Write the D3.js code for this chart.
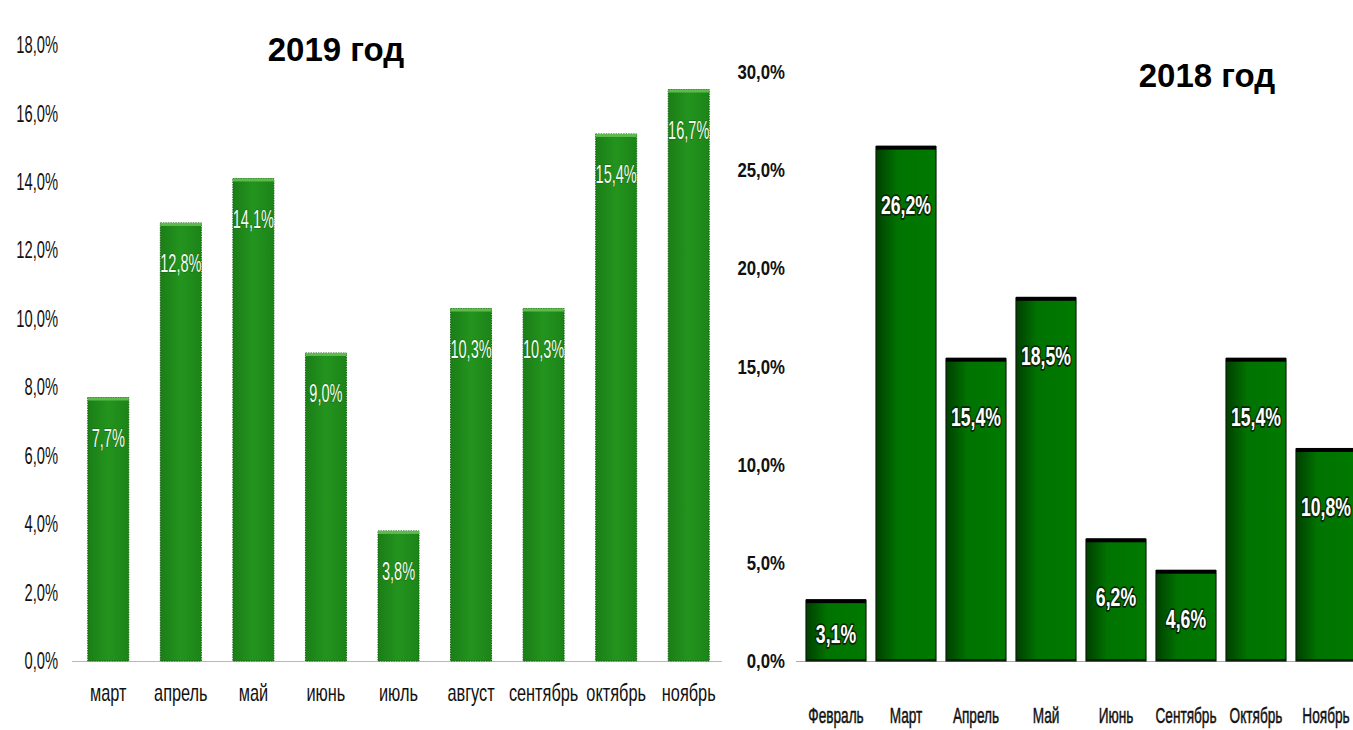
<!DOCTYPE html>
<html><head><meta charset="utf-8">
<script src="https://cdn.jsdelivr.net/npm/d3@7"></script>
<style>
body{margin:0;background:#fff;}
svg{display:block;}
text{font-family:"Liberation Sans",Arial,sans-serif;}
</style></head>
<body>
<svg id="c" width="1353" height="730"></svg>
<script>
// ---- data ----
const months2019 = ["март","апрель","май","июнь","июль","август","сентябрь","октябрь","ноябрь"];
const values2019 = [7.7, 12.8, 14.1, 9.0, 3.8, 10.3, 10.3, 15.4, 16.7];
const ticks2019 = [0,2,4,6,8,10,12,14,16,18];

const months2018 = ["Февраль","Март","Апрель","Май","Июнь","Сентябрь","Октябрь","Ноябрь"];
const values2018 = [3.1, 26.2, 15.4, 18.5, 6.2, 4.6, 15.4, 10.8];
const ticks2018 = [0,5,10,15,20,25,30];

const fmt = v => d3.format(".1f")(v).replace(".", ",") + "%";

const svg = d3.select("#c");
const defs = svg.append("defs");

const g1 = defs.append("linearGradient").attr("id","gL").attr("x1","0").attr("x2","1").attr("y1","0").attr("y2","0");
g1.append("stop").attr("offset","0%").attr("stop-color","#1b7e17");
g1.append("stop").attr("offset","50%").attr("stop-color","#23941e");
g1.append("stop").attr("offset","100%").attr("stop-color","#1c8418");

const g2 = defs.append("linearGradient").attr("id","gR").attr("x1","0").attr("x2","1").attr("y1","0").attr("y2","0");
g2.append("stop").attr("offset","0%").attr("stop-color","#003f00");
g2.append("stop").attr("offset","35%").attr("stop-color","#007300");
g2.append("stop").attr("offset","100%").attr("stop-color","#007a00");

// condensed text helper
function squeezed(parent, data, xf, yf, tf, o) {
  return parent.append("g").selectAll("text").data(data).join("text")
    .attr("transform",(d,i)=>`translate(${xf(d,i)},${yf(d,i)}) scale(${o.sx},1)`)
    .attr("dy","0.35em")
    .attr("text-anchor",o.anchor||"middle")
    .attr("font-size",o.size)
    .attr("font-weight",o.weight||"normal")
    .attr("fill",o.fill||"#111")
    .text(tf);
}

// ---- 2019 chart ----
{
  const y = d3.scaleLinear().domain([0,18]).range([661,45]);
  const x = d3.scaleBand().domain(months2019).range([72,725]).paddingInner(0.435).paddingOuter(0.2175);

  squeezed(svg, ticks2019, ()=>58, d=>y(d), fmt, {sx:0.64, size:23, anchor:"end"});

  svg.append("line").attr("x1",72).attr("x2",722).attr("y1",y(0)+0.5).attr("y2",y(0)+0.5)
    .attr("stroke","#b8b8b8").attr("stroke-width",1);

  const bars = svg.append("g");
  bars.selectAll("rect.b").data(values2019).join("rect").attr("class","b")
    .attr("x",(d,i)=>x(months2019[i])).attr("width",x.bandwidth())
    .attr("y",d=>y(d)).attr("height",d=>y(0)-y(d))
    .attr("fill","url(#gL)").attr("stroke","#176312").attr("stroke-width",1).attr("stroke-dasharray","1.5,1");
  bars.selectAll("rect.h").data(values2019).join("rect").attr("class","h")
    .attr("x",(d,i)=>x(months2019[i])).attr("width",x.bandwidth())
    .attr("y",d=>y(d)).attr("height",3).attr("fill","#5dbb4c");

  squeezed(svg, values2019, (d,i)=>x(months2019[i])+x.bandwidth()/2,
    d=>Math.min(y(d)+40,(y(d)+y(0))/2), fmt, {sx:0.56, size:26, fill:"#f2fbee"})
    .attr("stroke","#1a5e14").attr("stroke-width",1).attr("paint-order","stroke");

  squeezed(svg, months2019, d=>x(d)+x.bandwidth()/2, ()=>693, d=>d, {sx:0.68, size:24});

  svg.append("text").attr("x",336).attr("y",61).attr("text-anchor","middle")
    .attr("font-weight","bold").attr("font-size",33).attr("fill","#000").text("2019 год");
}

// ---- 2018 chart ----
{
  const y = d3.scaleLinear().domain([0,30]).range([661,72]);
  const x = d3.scaleBand().domain(months2018).range([801,1361]).paddingInner(0.143).paddingOuter(0.0715);

  squeezed(svg, ticks2018, ()=>785, d=>y(d), fmt, {sx:0.84, size:20, weight:"bold", anchor:"end"});

  svg.append("line").attr("x1",796).attr("x2",1353).attr("y1",y(0)+0.5).attr("y2",y(0)+0.5)
    .attr("stroke","#aaaaaa").attr("stroke-width",1);

  const bars = svg.append("g");
  bars.selectAll("rect.b").data(values2018).join("rect").attr("class","b")
    .attr("x",(d,i)=>x(months2018[i])).attr("width",x.bandwidth())
    .attr("y",d=>y(d)).attr("height",d=>y(0)-y(d))
    .attr("fill","url(#gR)").attr("stroke","#0b1f0b").attr("stroke-width",1.2);
  bars.selectAll("rect.h").data(values2018).join("rect").attr("class","h")
    .attr("x",(d,i)=>x(months2018[i])).attr("width",x.bandwidth())
    .attr("y",d=>y(d)-1).attr("height",4).attr("fill","#000");
  bars.selectAll("rect.f").data(values2018).join("rect").attr("class","f")
    .attr("x",(d,i)=>x(months2018[i])).attr("width",x.bandwidth())
    .attr("y",y(0)-2).attr("height",2).attr("fill","#0b1f0b");

  squeezed(svg, values2018, (d,i)=>x(months2018[i])+x.bandwidth()/2,
    d=>Math.min(y(d)+58,(y(d)+y(0))/2+3), fmt, {sx:0.68, size:26, weight:"bold", fill:"#ffffff"})
    .attr("stroke","#062806").attr("stroke-width",3.5).attr("paint-order","stroke").attr("stroke-linejoin","round");

  squeezed(svg, months2018, d=>x(d)+x.bandwidth()/2, ()=>715, d=>d, {sx:0.62, size:22})
    .attr("stroke","#111").attr("stroke-width",0.5);

  svg.append("text").attr("x",1207).attr("y",87).attr("text-anchor","middle")
    .attr("font-weight","bold").attr("font-size",33).attr("fill","#000").text("2018 год");
}
</script>
</body></html>
